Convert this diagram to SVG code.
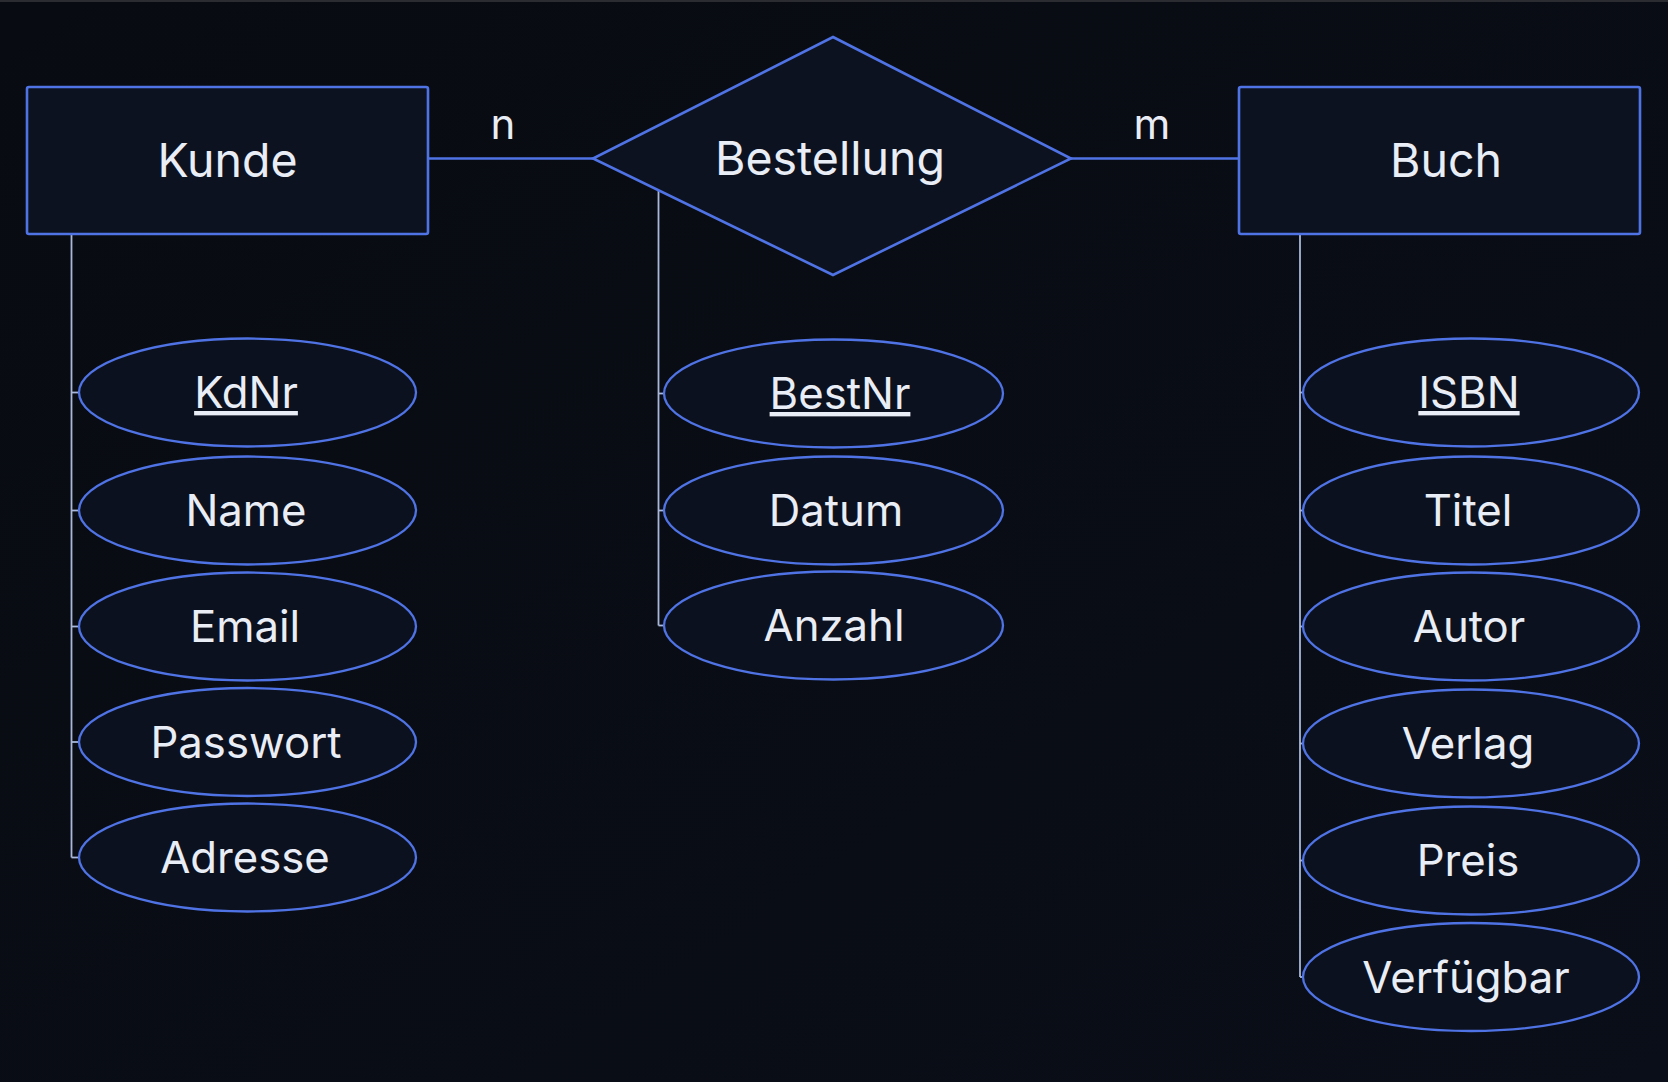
<svg xmlns="http://www.w3.org/2000/svg" width="1668" height="1082" viewBox="0 0 1668 1082">
<defs>
<style>
.ent{fill:#0d1221;stroke:#4f73e4;stroke-width:2.6}
.rel{fill:#0d1221;stroke:#4f73e4;stroke-width:2.6;stroke-linejoin:miter}
.attr{fill:#0c1120;stroke:#4f73e4;stroke-width:2.3}
.rl{stroke:#4f73e4;stroke-width:2.6;fill:none}
.al{stroke:#a9b7da;stroke-width:1.8;fill:none}
text{font-family:Inter,"Liberation Sans",Arial,sans-serif;fill:#e9edf5;text-anchor:middle}
.big{font-size:46.5px}
.att{font-size:43.7px}
.card{font-size:42px}
.key{text-decoration:underline}
</style>
<linearGradient id="bgg" x1="0" y1="0" x2="1" y2="1">
<stop offset="0" stop-color="#080b11"/>
<stop offset="1" stop-color="#0a0e18"/>
</linearGradient>
</defs>
<rect x="0" y="0" width="1668" height="1082" fill="url(#bgg)"/>
<rect x="0" y="0" width="1668" height="2" fill="#2a2c31"/>

<g id="connectors">
<line class="rl" x1="428" y1="158.5" x2="593" y2="158.5"/>
<line class="rl" x1="1071" y1="158.5" x2="1239" y2="158.5"/>
<polyline class="al" points="71.5,234 71.5,857.5"/>
<line class="al" x1="71.5" y1="392.5" x2="79" y2="392.5"/>
<line class="al" x1="71.5" y1="510.5" x2="79" y2="510.5"/>
<line class="al" x1="71.5" y1="626.5" x2="79" y2="626.5"/>
<line class="al" x1="71.5" y1="742" x2="79" y2="742"/>
<line class="al" x1="71.5" y1="857.5" x2="79" y2="857.5"/>
<polyline class="al" points="658.5,190 658.5,625.5"/>
<line class="al" x1="658.5" y1="393.5" x2="664" y2="393.5"/>
<line class="al" x1="658.5" y1="510.5" x2="664" y2="510.5"/>
<line class="al" x1="658.5" y1="625.5" x2="664" y2="625.5"/>
<polyline class="al" points="1300,234 1300,977"/>
<line class="al" x1="1300" y1="392.5" x2="1303" y2="392.5"/>
<line class="al" x1="1300" y1="510.5" x2="1303" y2="510.5"/>
<line class="al" x1="1300" y1="626.5" x2="1303" y2="626.5"/>
<line class="al" x1="1300" y1="743.5" x2="1303" y2="743.5"/>
<line class="al" x1="1300" y1="860.5" x2="1303" y2="860.5"/>
<line class="al" x1="1300" y1="977" x2="1303" y2="977"/>
<text class="card" x="503" y="139">n</text>
<text class="card" x="1152" y="138.5">m</text>
</g>

<g id="kunde">
<rect class="ent" x="27" y="87" width="401" height="147" rx="2"/>
<text class="big" x="227.5" y="177">Kunde</text>
</g>
<g id="bestellung">
<polygon class="rel" points="833,37 1071,158.5 833,275 593,158.5"/>
<text class="big" x="830" y="175">Bestellung</text>
</g>
<g id="buch">
<rect class="ent" x="1239" y="87" width="401" height="147" rx="2"/>
<text class="big" x="1446" y="177">Buch</text>
</g>

<g id="attr-kdnr"><ellipse class="attr" cx="247.5" cy="392.5" rx="168.5" ry="54"/><text class="att key" x="246" y="408">KdNr</text></g>
<g id="attr-name"><ellipse class="attr" cx="247.5" cy="510.5" rx="168.5" ry="54"/><text class="att" x="246" y="526">Name</text></g>
<g id="attr-email"><ellipse class="attr" cx="247.5" cy="626.5" rx="168.5" ry="54"/><text class="att" x="245" y="642">Email</text></g>
<g id="attr-passwort"><ellipse class="attr" cx="247.5" cy="742" rx="168.5" ry="54"/><text class="att" x="246" y="757.5">Passwort</text></g>
<g id="attr-adresse"><ellipse class="attr" cx="247.5" cy="857.5" rx="168.5" ry="54"/><text class="att" x="245" y="873">Adresse</text></g>

<g id="attr-bestnr"><ellipse class="attr" cx="833.5" cy="393.5" rx="169.5" ry="54"/><text class="att key" x="840" y="409">BestNr</text></g>
<g id="attr-datum"><ellipse class="attr" cx="833.5" cy="510.5" rx="169.5" ry="54"/><text class="att" x="836" y="526">Datum</text></g>
<g id="attr-anzahl"><ellipse class="attr" cx="833.5" cy="625.5" rx="169.5" ry="54"/><text class="att" x="834" y="641">Anzahl</text></g>

<g id="attr-isbn"><ellipse class="attr" cx="1471" cy="392.5" rx="168" ry="54"/><text class="att key" x="1469" y="408">ISBN</text></g>
<g id="attr-titel"><ellipse class="attr" cx="1471" cy="510.5" rx="168" ry="54"/><text class="att" x="1468" y="526">Titel</text></g>
<g id="attr-autor"><ellipse class="attr" cx="1471" cy="626.5" rx="168" ry="54"/><text class="att" x="1469" y="642">Autor</text></g>
<g id="attr-verlag"><ellipse class="attr" cx="1471" cy="743.5" rx="168" ry="54"/><text class="att" x="1468" y="759">Verlag</text></g>
<g id="attr-preis"><ellipse class="attr" cx="1471" cy="860.5" rx="168" ry="54"/><text class="att" x="1468" y="876">Preis</text></g>
<g id="attr-verfuegbar"><ellipse class="attr" cx="1471" cy="977" rx="168" ry="54"/><text class="att" x="1466" y="992.5">Verfügbar</text></g>
</svg>
